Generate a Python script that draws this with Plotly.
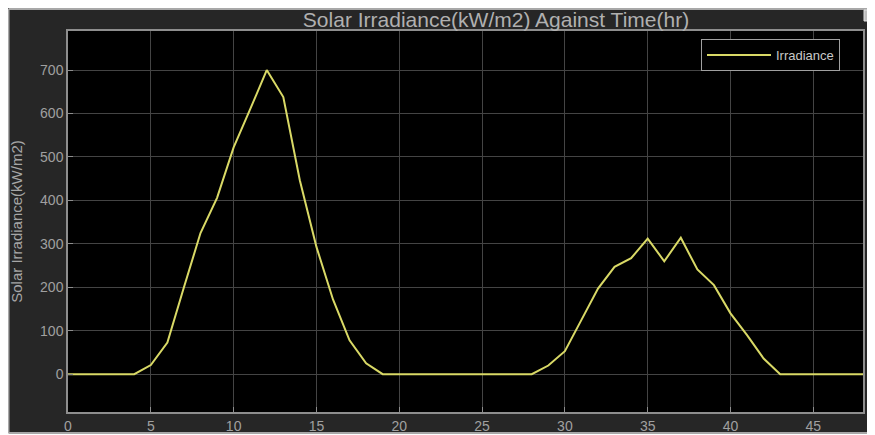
import plotly.graph_objects as go

time_hr = list(range(0, 49))
irradiance = [0, 0, 0, 0, 0, 21, 73, 200, 325, 406, 522, 610, 700, 638, 446,
              293, 172, 78, 25, 0, 0, 0, 0, 0, 0, 0, 0, 0, 0, 20,
              53, 125, 197, 247, 267, 312, 260, 314, 241, 205, 140, 90, 36, 0, 0,
              0, 0, 0, 0]

x_ticks = [0, 5, 10, 15, 20, 25, 30, 35, 40, 45]
y_ticks = [0, 100, 200, 300, 400, 500, 600, 700]

# The page body has an 8 px margin, so the figure is placed at (8, 8) in the window.
OFF = 8
W, H = 875 - OFF, 435 - OFF
# plot area in window pixels
L, R, T, B = 68, 863, 31, 412
pw, ph = R - L, B - T


def px(x):
    return (x - L) / pw


def py(y):
    return (B - y) / ph


fig = go.Figure()
fig.add_trace(go.Scatter(x=time_hr, y=irradiance, mode="lines", name="Irradiance",
                         line=dict(color="#d9d966", width=2)))

grey = "#8e8e8e"
shapes = [
    dict(type="rect", xref="paper", yref="paper", x0=-0.3, x1=1.3, y0=-0.3, y1=py(433),
         fillcolor="white", line=dict(width=0)),
    dict(type="line", xref="paper", yref="paper", x0=px(8.5), x1=1.3, y0=py(9), y1=py(9),
         line=dict(color="#a8a8a8", width=2)),
    dict(type="line", xref="paper", yref="paper", x0=px(8.5), x1=px(8.5), y0=py(9), y1=py(433),
         line=dict(color="#a8a8a8", width=2)),
    dict(type="line", xref="paper", yref="paper", x0=px(8.5), x1=1.3, y0=py(433), y1=py(433),
         line=dict(color="#a8a8a8", width=2)),
    dict(type="rect", xref="paper", yref="paper", x0=px(864), x1=px(875), y0=py(21), y1=py(10),
         fillcolor="#bdbdbd", line=dict(color="#e0e0e0", width=1)),
]

fig.update_layout(
    width=W, height=H,
    margin=dict(l=L - OFF, r=(875 - R), t=T - OFF, b=(435 - B), pad=0, autoexpand=False),
    paper_bgcolor="#262626",
    plot_bgcolor="black",
    font=dict(family="Liberation Sans, Arial, sans-serif", color="#a6a6a6", size=14),
    title=dict(text="Solar Irradiance(kW/m2) Against Time(hr)", x=(496 - OFF) / W, xanchor="center",
               y=1 - (20 - OFF) / H, yanchor="middle",
               font=dict(size=21, color="#b0b0b0")),
    showlegend=True,
    legend=dict(x=px(840), xanchor="right", y=py(39), yanchor="top",
                bgcolor="black", bordercolor="#a0a0a0", borderwidth=1,
                itemwidth=64, font=dict(size=13, color="#c8c8c8")),
    shapes=shapes,
)
fig.update_xaxes(range=[0, 48], tickvals=x_ticks, ticktext=[str(v) for v in x_ticks],
                 showgrid=True, gridcolor="#444444", gridwidth=1,
                 showline=True, linecolor=grey, linewidth=1.5, mirror=True,
                 ticks="inside", ticklen=5, tickcolor=grey, zeroline=False,
                 automargin=False,
                 tickfont=dict(size=14, color="#a0a0a0"))
fig.update_yaxes(range=[-87, 790], tickvals=y_ticks, ticktext=[str(v) for v in y_ticks],
                 showgrid=True, gridcolor="#444444", gridwidth=1,
                 showline=True, linecolor=grey, linewidth=1.5, mirror=True,
                 ticks="inside", ticklen=5, tickcolor=grey, zeroline=False,
                 automargin=False,
                 tickfont=dict(size=14, color="#a0a0a0"),
                 title=dict(text="Solar Irradiance(kW/m2)", standoff=14,
                            font=dict(size=15, color="#a6a6a6")))

fig.write_html("out.html")
